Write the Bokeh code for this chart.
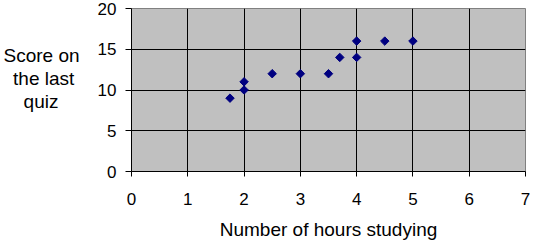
import numpy as np
from bokeh.plotting import figure
from bokeh.models import FixedTicker, ColumnDataSource, Range1d
from bokeh.embed import file_html
from bokeh.resources import INLINE

hours = [1.75, 2, 2, 2.5, 3, 3.5, 3.7, 4, 4, 4.5, 5]
scores = [9, 10, 11, 12, 12, 12, 14, 14, 16, 16, 16]
x_ticks = [0, 1, 2, 3, 4, 5, 6, 7]
y_ticks = [0, 5, 10, 15, 20]
x_title = "Number of hours studying"
y_title_lines = ["Score on", "the last", "quiz"]

FONT = "Liberation Sans"
NB = "\u00a0"

p = figure(width=541, height=246, output_backend="svg", toolbar_location=None,
           x_range=Range1d(0, 7), y_range=Range1d(0, 20),
           min_border_left=130, min_border_right=16, min_border_top=8, min_border_bottom=75)
p.background_fill_color = "#C0C0C0"
p.border_fill_color = "white"
p.outline_line_color = "#808080"
p.outline_line_width = 1

for ax in (p.xaxis[0], p.yaxis[0]):
    ax.axis_line_color = "black"
    ax.major_tick_line_color = "black"
    ax.minor_tick_line_color = None
    ax.major_tick_in = 0
    ax.major_label_text_font = FONT
    ax.major_label_text_font_size = "17px"
    ax.major_label_text_color = "black"
    ax.axis_label_text_font = FONT
    ax.axis_label_text_font_style = "normal"
    ax.axis_label_text_color = "black"

p.xaxis.ticker = FixedTicker(ticks=x_ticks)
p.yaxis.ticker = FixedTicker(ticks=y_ticks)
p.xaxis.major_tick_out = 5
p.yaxis.major_tick_out = 6
p.xaxis.major_label_standoff = 16
p.yaxis.major_label_standoff = 9

p.xaxis.axis_label = x_title
p.xaxis.axis_label_text_font_size = "19px"
p.xaxis.axis_label_standoff = 11

# y title: horizontal, three lines visually centred (right-padded), lifted by a blank line
padded = [y_title_lines[0], y_title_lines[1] + NB, y_title_lines[2] + NB * 4, NB]
p.yaxis.axis_label = "\n".join(padded)
p.yaxis.axis_label_orientation = "horizontal"
p.yaxis.axis_label_text_font_size = "19px"
p.yaxis.axis_label_text_line_height = 1.1
p.yaxis.axis_label_standoff = 15

p.xgrid.ticker = FixedTicker(ticks=x_ticks[1:-1])
p.ygrid.ticker = FixedTicker(ticks=y_ticks[1:-1])
p.xgrid.grid_line_color = "black"
p.ygrid.grid_line_color = "black"
p.xgrid.grid_line_width = 1
p.ygrid.grid_line_width = 1

src = ColumnDataSource(dict(x=hours, y=scores))
p.scatter("x", "y", source=src, marker="square", angle=np.pi / 4, size=6,
          fill_color="#000080", line_color="#000080")

open("out.html", "w").write(file_html(p, INLINE))
